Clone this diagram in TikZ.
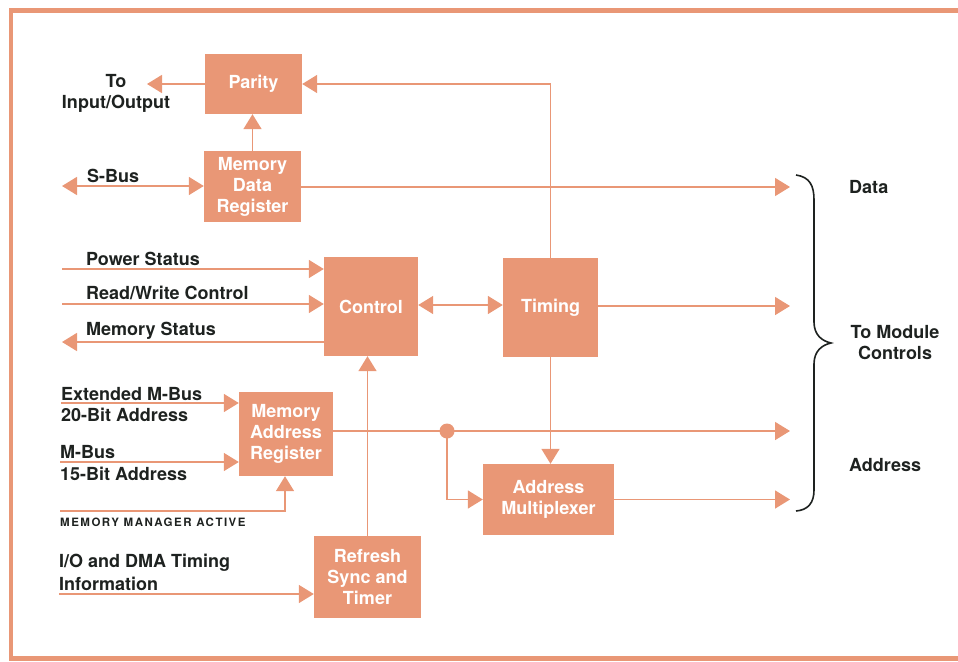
\documentclass[tikz,border=0pt]{standalone}
\usepackage{fontspec}
\setmainfont{TeX Gyre Heros}
\usetikzlibrary{arrows.meta}
\definecolor{salmon}{RGB}{233,151,118}
\definecolor{ink}{RGB}{30,34,32}
\begin{document}
\begin{tikzpicture}[x=1pt,y=-1pt,
  blk/.style={fill=salmon,draw=none,text=white,font=\fontsize{18}{21}\selectfont\bfseries,align=center,inner sep=0pt},
  wire/.style={draw=salmon,line width=1.6pt},
  arr/.style={wire,-{Triangle[length=15pt,width=18pt]}},
  darr/.style={wire,{Triangle[length=15pt,width=18pt]}-{Triangle[length=15pt,width=18pt]}},
  lbl/.style={text=ink,font=\fontsize{18}{21}\selectfont\bfseries,inner sep=0pt,anchor=base west},
  clbl/.style={lbl,anchor=base},
  brace/.style={draw=ink,line width=1.6pt},
  frame/.style={draw=salmon,line width=4.5pt,line join=miter}
]
\useasboundingbox (0,0) rectangle (958,661);
\draw[frame] (960,10.5) -- (11,10.5) -- (11,658.5) -- (960,658.5);

% blocks
\node[blk,minimum width=97pt,minimum height=60pt] (par) at (253.5,84) {Parity};
\node[blk,minimum width=97pt,minimum height=71pt] (mdr) at (252.5,186.5) {Memory\\Data\\Register};
\node[blk,minimum width=94pt,minimum height=99pt] (ctl) at (371,306.5) {Control};
\node[blk,minimum width=95pt,minimum height=99pt] (tim) at (550.5,307.5) {Timing};
\node[blk,minimum width=94pt,minimum height=84pt] (mar) at (286,434) {Memory\\Address\\Register};
\node[blk,minimum width=131pt,minimum height=71pt] (am) at (548.5,499.5) {Address\\Multiplexer};
\node[blk,minimum width=107pt,minimum height=82pt] (ref) at (367.5,577) {Refresh\\Sync and\\Timer};

% free ends
\coordinate (io) at (147,84);
\coordinate (sbus) at (62,186);
\coordinate (dataout) at (790,187);
\coordinate (ps) at (62,269);
\coordinate (rw) at (62,304);
\coordinate (ms) at (62,342);
\coordinate (timout) at (790,306);
\coordinate (emb) at (61,403);
\coordinate (mb) at (60,462);
\coordinate (mma) at (60,511);
\coordinate (mmacorner) at (285,511);
\coordinate (dma) at (59,594);
\coordinate (dot) at (447,431);
\coordinate (addrout) at (790,431);
\coordinate (amout) at (790,499.5);

% connectors
\draw[arr] (par.west) -- (io);
\draw[arr] (mdr.north) -- (mdr.north |- par.south);
\draw[darr] (sbus) -- (sbus -| mdr.west);
\draw[arr] (dataout -| mdr.east) -- (dataout);
\draw[arr] (tim.north) |- (par.east);
\draw[arr] (ps) -- (ps -| ctl.west);
\draw[arr] (rw) -- (rw -| ctl.west);
\draw[arr] (ms -| ctl.west) -- (ms);
\draw[darr] (ctl.east |- 0,305) -- (tim.west |- 0,305);
\draw[arr] (timout -| tim.east) -- (timout);
\draw[arr] (tim.south) -- (tim.south |- am.north);
\draw[arr] (ref.north) -- (ref.north |- ctl.south);
\draw[arr] (emb) -- (emb -| mar.west);
\draw[arr] (mb) -- (mb -| mar.west);
\draw[arr] (mma) -- (mmacorner) -- (mmacorner |- mar.south);
\draw[arr] (dma) -- (dma -| ref.west);
\draw[wire] (dot -| mar.east) -- (dot);
\draw[arr] (dot) -- (addrout);
\draw[arr] (dot) |- (am.west);
\fill[salmon] (dot) circle (7.5pt);
\draw[arr] (am.east) -- (amout);

% brace
\draw[brace] (796,175) .. controls (810,177) and (814,186) .. (814,200) -- (814,322)
  .. controls (814,335) and (822,341) .. (831,343)
  .. controls (822,345) and (814,351) .. (814,364) -- (814,490)
  .. controls (814,503) and (808,510) .. (796,511);

% labels
\node[clbl] (tTo) at (116,87) {To};
\node[clbl] (tIO) at (116,108) {Input/Output};
\node[lbl] (tS) at (87,182) {S-Bus};
\node[lbl] (tPS) at (86,265) {Power Status};
\node[lbl] (tRW) at (86,299) {Read/Write Control};
\node[lbl] (tMS) at (86,335.5) {Memory Status};
\node[lbl] (tE1) at (61,400) {Extended M-Bus};
\node[lbl] (tE2) at (61,421) {20-Bit Address};
\node[lbl] (tM1) at (60,458) {M-Bus};
\node[lbl] (tM2) at (60,480) {15-Bit Address};
\node[lbl,font=\fontsize{11.5}{13}\selectfont\bfseries\addfontfeatures{LetterSpace=13}] (tMMA) at (60,526) {MEMORY MANAGER ACTIVE};
\node[lbl] (tD1) at (59,567) {I/O and DMA Timing};
\node[lbl] (tD2) at (59,590) {Information};
\node[lbl] (tData) at (849,193) {Data};
\node[clbl] (tTM1) at (895,338) {To Module};
\node[clbl] (tTM2) at (895,359) {Controls};
\node[lbl] (tAddr) at (849,471) {Address};
\end{tikzpicture}
\end{document}
